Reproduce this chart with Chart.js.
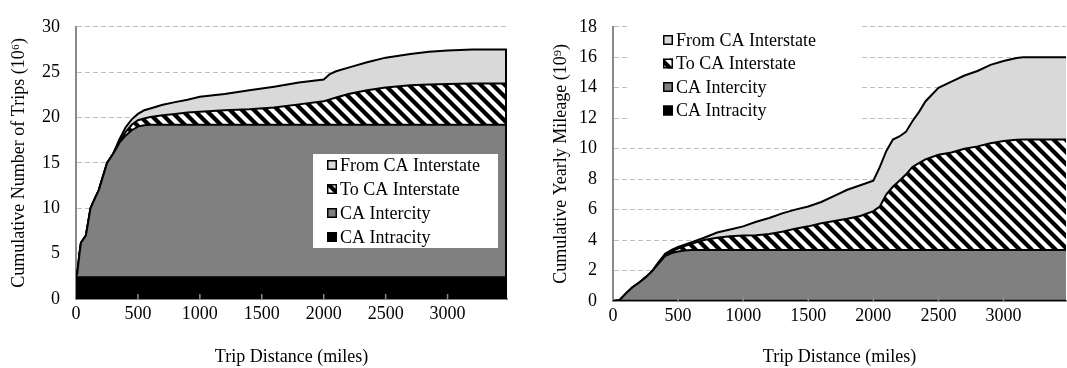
<!DOCTYPE html>
<html>
<head>
<meta charset="utf-8">
<script src="https://cdn.jsdelivr.net/npm/chart.js@4.4.1/dist/chart.umd.min.js"></script>
<style>
  html, body { margin: 0; padding: 0; background: #fff; }
  #wrap { position: relative; width: 1067px; height: 368px; overflow: hidden; }
  #trips { position: absolute; left: 0; top: 0; }
  #mileage { position: absolute; left: 530px; top: 0; }
</style>
</head>
<body>
<div id="wrap">
  <canvas id="trips" width="530" height="368"></canvas>
  <canvas id="mileage" width="537" height="368"></canvas>
</div>
<script>
// Series, bottom of the stack first
const SERIES_NAMES = ['CA Intracity', 'CA Intercity', 'To CA Interstate', 'From CA Interstate'];

// Trip distance (miles) sampled for the trips panel
const DIST_TRIPS = [0, 10, 20, 30, 40, 60, 80, 100, 117, 150, 184, 220, 251, 300, 350, 400, 450, 500, 550, 600,
  700, 800, 900, 1000, 1200, 1400, 1600, 1800, 2000, 2050, 2100, 2200, 2350, 2500, 2700, 2850, 3000, 3200, 3480];

// Cumulative number of trips (10^6), each series' own share
const TRIPS_INTRACITY = [2.4, 2.4, 2.4, 2.4, 2.4, 2.4, 2.4, 2.4, 2.4, 2.4, 2.4, 2.4, 2.4, 2.4, 2.4, 2.4, 2.4, 2.4, 2.4, 2.4,
  2.4, 2.4, 2.4, 2.4, 2.4, 2.4, 2.4, 2.4, 2.4, 2.4, 2.4, 2.4, 2.4, 2.4, 2.4, 2.4, 2.4, 2.4, 2.4];
const TRIPS_INTERCITY = [0, 0.4, 1.6, 2.8, 3.8, 4.2, 4.6, 6.2, 7.6, 8.6, 9.6, 11.2, 12.6, 13.6, 14.8, 15.6, 16.2, 16.6, 16.75, 16.8,
  16.8, 16.8, 16.8, 16.8, 16.8, 16.8, 16.8, 16.8, 16.8, 16.8, 16.8, 16.8, 16.8, 16.8, 16.8, 16.8, 16.8, 16.8, 16.8];
const TRIPS_TO = [0, 0, 0, 0, 0, 0, 0, 0, 0, 0, 0, 0, 0, 0, 0.2, 0.4, 0.6, 0.7, 0.75, 0.85,
  1.05, 1.2, 1.35, 1.45, 1.6, 1.7, 1.9, 2.25, 2.6, 2.8, 3.0, 3.4, 3.8, 4.1, 4.35, 4.45, 4.5, 4.55, 4.55];
const TRIPS_FROM = [0, 0, 0, 0, 0, 0, 0, 0, 0, 0, 0, 0, 0, 0, 0.2, 0.5, 0.6, 0.7, 0.9, 0.95,
  1.15, 1.3, 1.4, 1.65, 1.8, 2.1, 2.3, 2.4, 2.4, 2.8, 2.9, 2.9, 3.1, 3.3, 3.45, 3.6, 3.7, 3.75, 3.75];

// Trip distance (miles) sampled for the mileage panel
const DIST_MILES = [0, 50, 100, 150, 200, 250, 300, 350, 400, 450, 500, 550, 600, 700, 800, 900, 1000, 1100, 1200, 1300,
  1400, 1500, 1600, 1700, 1800, 1900, 2000, 2050, 2100, 2150, 2200, 2250, 2300, 2350, 2400, 2500, 2600, 2700, 2800,
  2900, 3000, 3100, 3150, 3200, 3300, 3480];

// Cumulative yearly mileage (10^9), each series' own share
const MILES_INTRACITY = [0, 0.02, 0.02, 0.02, 0.02, 0.02, 0.02, 0.02, 0.02, 0.02, 0.02, 0.02, 0.02, 0.02, 0.02, 0.02, 0.02,
  0.02, 0.02, 0.02, 0.02, 0.02, 0.02, 0.02, 0.02, 0.02, 0.02, 0.02, 0.02, 0.02, 0.02, 0.02, 0.02, 0.02, 0.02, 0.02, 0.02,
  0.02, 0.02, 0.02, 0.02, 0.02, 0.02, 0.02, 0.02, 0.02];
const MILES_INTERCITY = [0, 0.03, 0.48, 0.88, 1.18, 1.53, 1.93, 2.43, 2.93, 3.13, 3.23, 3.3, 3.33, 3.33, 3.33, 3.33, 3.33,
  3.33, 3.33, 3.33, 3.33, 3.33, 3.33, 3.33, 3.33, 3.33, 3.33, 3.33, 3.33, 3.33, 3.33, 3.33, 3.33, 3.33, 3.33, 3.33, 3.33,
  3.33, 3.33, 3.33, 3.33, 3.33, 3.33, 3.33, 3.33, 3.33];
const MILES_TO = [0, 0, 0, 0, 0, 0, 0, 0.05, 0.05, 0.15, 0.2, 0.28, 0.4, 0.65, 0.8, 0.9, 0.95, 0.97, 1.05, 1.2,
  1.4, 1.55, 1.75, 1.9, 2.05, 2.23, 2.55, 2.85, 3.65, 4.15, 4.55, 4.95, 5.45, 5.7, 5.95, 6.25, 6.4, 6.65, 6.8,
  7.0, 7.15, 7.23, 7.25, 7.25, 7.25, 7.25];
const MILES_FROM = [0, 0, 0, 0, 0, 0, 0, 0.05, 0.1, 0.05, 0.1, 0.1, 0.1, 0.15, 0.35, 0.45, 0.6, 0.88, 1.05, 1.2,
  1.25, 1.3, 1.4, 1.65, 1.9, 2.02, 2.0, 2.6, 2.85, 3.1, 2.9, 2.8, 3.0, 3.35, 3.8, 4.4, 4.65, 4.8, 4.95,
  5.15, 5.25, 5.37, 5.4, 5.4, 5.4, 5.4];

// Axis ticks
const X_TICKS = [0, 500, 1000, 1500, 2000, 2500, 3000];
const Y_TICKS_TRIPS = [0, 5, 10, 15, 20, 25, 30];
const Y_TICKS_MILES = [0, 2, 4, 6, 8, 10, 12, 14, 16, 18];

const FONT = { family: '"Liberation Serif", "Times New Roman", serif', size: 18 };
const AXIS_GREY = '#8a8a8a';

// Diagonal black/white hatch used for the "To CA Interstate" band
function makeHatch() {
  const s = 12;
  const c = document.createElement('canvas');
  c.width = s; c.height = s;
  const g = c.getContext('2d');
  g.fillStyle = '#fff';
  g.fillRect(0, 0, s, s);
  g.strokeStyle = '#000';
  g.lineWidth = 4.2;
  for (const k of [-s, 0, s]) {
    g.beginPath();
    g.moveTo(k - 2, -2);
    g.lineTo(k + s + 2, s + 2);
    g.stroke();
  }
  return g.createPattern(c, 'repeat');
}
const HATCH = makeHatch();
const FILLS = ['#000000', '#808080', HATCH, '#d9d9d9'];

// Legend drawn inside the plot, top entry = top of stack
const insetLegend = {
  id: 'insetLegend',
  afterDraw(chart, args, o) {
    const ctx = chart.ctx;
    ctx.save();
    if (o.box) {
      ctx.fillStyle = '#fff';
      ctx.fillRect(o.box[0], o.box[1], o.box[2], o.box[3]);
    }
    const ds = chart.data.datasets.slice().reverse();
    ds.forEach((d, i) => {
      const cy = o.y + i * o.rowGap;
      const m = 10;
      ctx.fillStyle = d.backgroundColor;
      ctx.fillRect(o.x, cy - m / 2, m, m);
      ctx.strokeStyle = '#000';
      ctx.lineWidth = 1.5;
      ctx.strokeRect(o.x + 0.75, cy - m / 2 + 0.75, m - 1.5, m - 1.5);
      ctx.fillStyle = '#000';
      ctx.font = FONT.size + 'px ' + FONT.family;
      ctx.textAlign = 'left';
      ctx.textBaseline = 'middle';
      ctx.fillText(d.label, o.x + m + 3, cy + 1);
    });
    ctx.restore();
  }
};

// Short tick marks pointing up into the plot from the distance axis,
// plus the closing edge of the stacked areas at the last distance
const axisDetails = {
  id: 'axisDetails',
  afterDatasetsDraw(chart, args, o) {
    const ctx = chart.ctx;
    const xs = chart.scales.x, ys = chart.scales.y;
    ctx.save();
    if (o.closeEdge) {
      const n = chart.data.datasets.length;
      const pts = chart.getDatasetMeta(n - 1).data;
      const last = pts[pts.length - 1];
      ctx.strokeStyle = '#000';
      ctx.lineWidth = 2;
      ctx.beginPath();
      ctx.moveTo(last.x - 1, ys.getPixelForValue(0));
      ctx.lineTo(last.x - 1, last.y);
      ctx.stroke();
    }
    ctx.strokeStyle = AXIS_GREY;
    ctx.lineWidth = 1.5;
    xs.ticks.forEach(t => {
      if (t.value === 0) return;
      const px = xs.getPixelForValue(t.value);
      ctx.beginPath();
      ctx.moveTo(px, xs.top);
      ctx.lineTo(px, xs.top - 5);
      ctx.stroke();
    });
    ctx.restore();
  }
};

function buildChart(id, dist, series, cfg) {
  const datasets = series.map((vals, i) => ({
    label: SERIES_NAMES[i],
    data: dist.map((d, k) => ({ x: d, y: vals[k] })),
    backgroundColor: FILLS[i],
    borderColor: '#000',
    borderWidth: 2,
    pointRadius: 0,
    tension: 0,
    fill: i === 0 ? 'origin' : '-1'
  }));
  return new Chart(document.getElementById(id), {
    type: 'line',
    data: { datasets },
    plugins: [insetLegend, axisDetails],
    options: {
      responsive: false,
      animation: false,
      layout: { padding: cfg.padding },
      plugins: {
        legend: { display: false },
        tooltip: { enabled: false },
        insetLegend: cfg.legend,
        axisDetails: { closeEdge: cfg.closeEdge }
      },
      scales: {
        x: {
          type: 'linear',
          min: 0,
          max: 3480,
          afterBuildTicks: s => { s.ticks = X_TICKS.map(v => ({ value: v })); },
          afterFit: s => { s.height = cfg.xHeight; },
          ticks: { color: '#000', font: FONT, padding: 4, maxRotation: 0, callback: v => String(v) },
          grid: { drawOnChartArea: false, drawTicks: false },
          border: { color: AXIS_GREY, width: 2 },
          title: { display: true, text: 'Trip Distance (miles)', color: '#000', font: FONT, padding: { top: 0, bottom: 0 } }
        },
        y: {
          stacked: true,
          min: 0,
          max: cfg.yMax,
          afterBuildTicks: s => { s.ticks = cfg.yTicks.map(v => ({ value: v })); },
          afterFit: s => { s.width = cfg.yWidth; },
          ticks: { color: '#000', font: FONT, padding: 16, callback: v => String(v) },
          grid: { color: '#c0c0c0', lineWidth: 1, drawTicks: false },
          border: { color: AXIS_GREY, width: 2, dash: [5, 3] },
          title: { display: true, text: cfg.yTitle, color: '#000', font: FONT, padding: { top: cfg.yTitlePad, bottom: 0 } }
        }
      }
    }
  });
}

buildChart('trips', DIST_TRIPS, [TRIPS_INTRACITY, TRIPS_INTERCITY, TRIPS_TO, TRIPS_FROM], {
  padding: { top: 11, right: 23, left: 0, bottom: 0 },
  xHeight: 69,
  yWidth: 76,
  yMax: 30,
  yTicks: Y_TICKS_TRIPS,
  yTitle: 'Cumulative Number of Trips (10\u2076)',
  yTitlePad: 8,
  closeEdge: true,
  legend: { x: 327, y: 165, rowGap: 24, box: [313, 154, 185, 94] }
});

buildChart('mileage', DIST_MILES, [MILES_INTRACITY, MILES_INTERCITY, MILES_TO, MILES_FROM], {
  padding: { top: 13, right: 1, left: 0, bottom: 0 },
  xHeight: 67,
  yWidth: 83,
  yMax: 18,
  yTicks: Y_TICKS_MILES,
  yTitle: 'Cumulative Yearly Mileage (10\u2079)',
  yTitlePad: 20,
  closeEdge: false,
  legend: { x: 133, y: 40, rowGap: 23.5, box: [97, 25, 235, 100] }
});
</script>
</body>
</html>
